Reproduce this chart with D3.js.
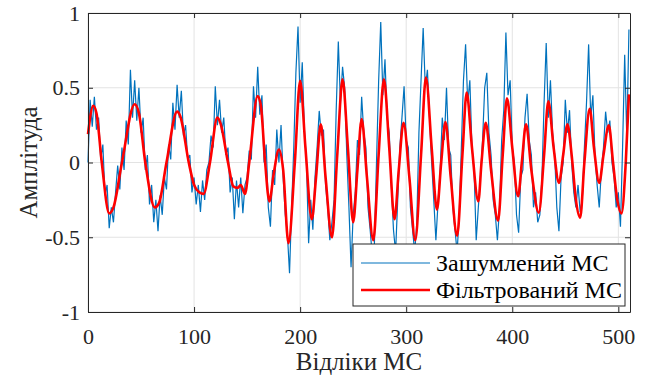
<!DOCTYPE html>
<html>
<head>
<meta charset="utf-8">
<script src="https://cdn.jsdelivr.net/npm/d3@7"></script>
<style>
  html, body { margin: 0; padding: 0; background: #fff; }
  svg { display: block; }
  svg text { font-family: "Liberation Serif", "Times New Roman", "DejaVu Serif", serif; }
  .grid line { stroke: #e3e3e3; stroke-width: 1; }
  .axis path, .axis line { stroke: #262626; }
  .axis text { fill: #262626; font-size: 22px; }
</style>
</head>
<body>
<svg id="chart"></svg>
<script>
// noisy signal, one value every 2 samples (0, 2, 4 ... 510)
const noisyStep = 2;
const noisyValues = [
  0.00, 0.42, 0.24, 0.44, 0.22, 0.30, 0.02, 0.12, -0.22, -0.15,
  -0.44, -0.30, -0.40, -0.20, -0.02, -0.18, 0.10, -0.05, 0.28, 0.12,
  0.62, 0.30, 0.55, 0.28, 0.50, 0.20, 0.30, -0.05, 0.05, -0.28,
  -0.15, -0.40, -0.25, -0.46, -0.22, -0.35, -0.10, -0.18, 0.12, 0.02,
  0.40, 0.22, 0.52, 0.30, 0.48, 0.18, 0.25, 0.02, 0.05, -0.20,
  -0.10, -0.28, -0.15, -0.33, -0.12, -0.25, -0.05, 0.00, 0.18, 0.10,
  0.51, 0.25, 0.42, 0.20, 0.30, 0.05, 0.10, -0.20, -0.10, -0.38,
  -0.12, -0.30, -0.10, -0.34, -0.15, -0.10, 0.08, 0.02, 0.51, 0.30,
  0.64, 0.32, 0.45, 0.00, 0.12, -0.30, -0.43, -0.05, -0.15, 0.22,
  0.00, 0.25, -0.10, -0.35, -0.48, -0.74, -0.30, 0.10, 0.60, 0.91,
  0.40, 0.67, 0.22, 0.00, -0.54, -0.25, -0.45, -0.10, 0.10, 0.345,
  0.18, 0.22, -0.15, -0.30, -0.52, -0.40, -0.25, 0.35, 0.81, 0.40,
  0.64, 0.50, 0.05, -0.30, -0.70, -0.35, -0.20, 0.15, 0.05, 0.44,
  0.20, 0.10, -0.30, -0.45, -0.62, -0.55, 0.00, 0.54, 0.94, 0.45,
  0.69, 0.30, 0.20, -0.15, -0.45, -0.60, -0.25, 0.10, 0.30, 0.51,
  0.15, 0.10, -0.30, -0.45, -0.60, -0.40, 0.20, 0.55, 0.90, 0.50,
  0.62, 0.30, 0.00, -0.25, -0.52, -0.27, -0.05, 0.30, 0.15, 0.50,
  0.10, 0.05, -0.30, -0.45, -0.60, -0.35, 0.10, 0.55, 0.79, 0.40,
  0.55, 0.10, -0.05, -0.52, -0.30, -0.10, 0.15, 0.50, 0.60, 0.20,
  0.05, -0.25, -0.35, -0.52, -0.30, 0.15, 0.35, 0.87, 0.45, 0.55,
  0.10, 0.00, -0.35, -0.47, -0.10, -0.05, 0.30, 0.46, 0.15, 0.05,
  -0.30, -0.20, -0.40, -0.35, -0.10, 0.40, 0.80, 0.30, 0.55, 0.20,
  0.05, -0.30, -0.46, -0.10, 0.00, 0.42, 0.20, 0.35, 0.00, -0.20,
  -0.30, -0.15, -0.33, -0.25, 0.10, 0.40, 0.79, 0.30, 0.45, 0.05,
  -0.15, -0.30, -0.05, 0.10, 0.34, 0.20, 0.28, 0.00, -0.10, -0.30,
  -0.20, -0.43, 0.10, 0.72, 0.16, 0.89
];

// filtered signal, read at peaks, troughs and crossings
const filteredSamples = [
  0, 5, 8, 13, 20, 24, 32, 44, 48, 54, 63, 67, 74, 84, 87, 95, 100, 105, 109, 115,
  122, 125, 132, 137, 141, 144, 148, 152, 160, 163, 167, 171, 175, 180, 184, 189, 195, 200, 205, 211,
  215, 219.5, 224, 230, 235, 240, 245, 250, 254, 258, 263, 269, 274, 279, 284, 289, 293, 297.5, 303, 308.5,
  314, 318.6, 324, 329, 333, 337, 342, 348, 353, 357, 362, 368, 371, 375, 380, 386.6, 391, 395, 400, 405.5,
  409, 413, 418, 425, 430, 434, 439, 444, 448, 452, 456, 460, 464, 468, 473, 477, 482, 486, 491, 495,
  499, 503, 507, 510
];
const filteredValues = [
  0.19, 0.38, 0.33, 0.00, -0.34, -0.30, 0.00, 0.39, 0.33, 0.00, -0.30, -0.27, 0.00, 0.34, 0.31, 0.00, -0.15, -0.20, -0.21, 0.00,
  0.30, 0.26, 0.00, -0.16, -0.17, -0.15, -0.21, 0.00, 0.445, 0.38, 0.00, -0.26, -0.08, 0.087, -0.05, -0.54, 0.00, 0.546, 0.10, -0.38,
  -0.10, 0.255, -0.10, -0.50, 0.05, 0.557, 0.10, -0.40, -0.05, 0.29, -0.10, -0.52, 0.05, 0.557, 0.10, -0.38, -0.05, 0.266, -0.10, -0.52,
  0.05, 0.568, 0.10, -0.315, 0.00, 0.27, -0.10, -0.49, 0.05, 0.468, 0.10, -0.26, 0.00, 0.266, -0.05, -0.39, 0.05, 0.43, 0.10, -0.226,
  0.00, 0.255, -0.05, -0.336, 0.05, 0.41, 0.10, -0.136, 0.05, 0.255, 0.05, -0.25, -0.37, 0.00, 0.36, 0.10, -0.136, 0.05, 0.248, 0.00,
  -0.25, -0.34, 0.00, 0.456
];

const xTicks = [0, 100, 200, 300, 400, 500];
const yTicks = [-1, -0.5, 0, 0.5, 1];
const legendLabels = ['Зашумлений МС', 'Фільтрований МС'];
const seriesColors = ['#0072bd', '#ff0000'];

const serif = '"Liberation Serif", "Times New Roman", "DejaVu Serif", serif';
const width = 645;
const height = 378;
const margin = { top: 13, right: 15, bottom: 66, left: 88 };
const innerW = width - margin.left - margin.right;
const innerH = height - margin.top - margin.bottom;

const svg = d3.select('#chart').attr('width', width).attr('height', height);
const g = svg.append('g').attr('transform', `translate(${margin.left},${margin.top})`);

const x = d3.scaleLinear().domain([0, 511]).range([0, innerW]);
const y = d3.scaleLinear().domain([-1, 1]).range([innerH, 0]);

// grid first, so the lines sit under everything
const grid = g.append('g').attr('class', 'grid');
grid.selectAll('.gx').data(xTicks).join('line')
  .attr('x1', d => x(d)).attr('x2', d => x(d)).attr('y1', 0).attr('y2', innerH);
grid.selectAll('.gy').data(yTicks).join('line')
  .attr('y1', d => y(d)).attr('y2', d => y(d)).attr('x1', 0).attr('x2', innerW);

const noisy = noisyValues.map((v, i) => ({ s: i * noisyStep, v }));
const filtered = filteredSamples.map((s, i) => ({ s, v: filteredValues[i] }));

g.append('path')
  .datum(noisy)
  .attr('fill', 'none')
  .attr('stroke', seriesColors[0])
  .attr('stroke-width', 1.2)
  .attr('d', d3.line().x(d => x(d.s)).y(d => y(d.v)));

g.append('path')
  .datum(filtered)
  .attr('fill', 'none')
  .attr('stroke', seriesColors[1])
  .attr('stroke-width', 2.6)
  .attr('stroke-linejoin', 'round')
  .attr('d', d3.line().curve(d3.curveMonotoneX).x(d => x(d.s)).y(d => y(d.v)));

// matlab style axes: ticks inside, box all round
const fmt = d => (d === 0 ? '0' : String(d));
g.append('g').attr('class', 'axis')
  .attr('transform', `translate(0,${innerH})`)
  .call(d3.axisBottom(x).tickValues(xTicks).tickFormat(fmt).tickSizeInner(-5).tickSizeOuter(0).tickPadding(16));
g.append('g').attr('class', 'axis')
  .call(d3.axisLeft(y).tickValues(yTicks).tickFormat(fmt).tickSizeInner(-5).tickSizeOuter(0).tickPadding(8));
g.append('g').attr('class', 'axis')
  .call(d3.axisTop(x).tickValues(xTicks).tickFormat('').tickSizeInner(-5).tickSizeOuter(0));
g.append('g').attr('class', 'axis')
  .attr('transform', `translate(${innerW},0)`)
  .call(d3.axisRight(y).tickValues(yTicks).tickFormat('').tickSizeInner(-5).tickSizeOuter(0));
g.selectAll('.axis').attr('font-family', serif);
g.selectAll('.axis .domain').attr('stroke-width', 1);

svg.append('text')
  .attr('x', margin.left + innerW / 2)
  .attr('y', 370)
  .attr('text-anchor', 'middle')
  .attr('font-family', serif)
  .attr('font-size', 25)
  .attr('fill', '#262626')
  .text('Відліки МС');

svg.append('text')
  .attr('transform', `translate(37,${margin.top + innerH / 2}) rotate(-90)`)
  .attr('text-anchor', 'middle')
  .attr('font-family', serif)
  .attr('font-size', 25)
  .attr('fill', '#262626')
  .text('Амплітуда');

// legend
const legend = svg.append('g').attr('transform', 'translate(353,244)');
legend.append('rect')
  .attr('width', 272).attr('height', 62)
  .attr('fill', '#fff').attr('stroke', '#262626').attr('stroke-width', 1);
legendLabels.forEach((label, i) => {
  const row = legend.append('g').attr('transform', `translate(0,${19 + i * 27})`);
  row.append('line')
    .attr('x1', 8).attr('x2', 77)
    .attr('stroke', seriesColors[i])
    .attr('stroke-width', i === 0 ? 1.2 : 2.6);
  row.append('text')
    .attr('x', 83).attr('dy', '0.35em')
    .attr('font-family', serif)
    .attr('font-size', 24)
    .attr('fill', '#000')
    .text(label);
});
</script>
</body>
</html>
